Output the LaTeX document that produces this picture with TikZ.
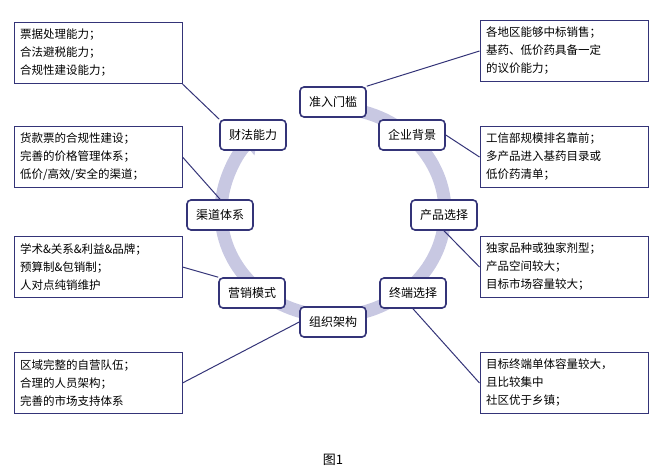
\documentclass[tikz,border=0pt]{standalone}
\usepackage{fontspec}
\usepackage{xcolor}
\newfontfamily\cjk{Noto Sans CJK SC}
\usetikzlibrary{arrows.meta}
\definecolor{navy}{RGB}{52,52,120}
\definecolor{ring}{RGB}{200,200,226}

\begin{document}
\begin{tikzpicture}[x=1pt, y=-1pt,
    stage/.style={rectangle, rounded corners=4pt, draw=navy, line width=1.6pt, fill=white,
        minimum width=66pt, minimum height=30pt, font=\cjk\fontsize{12}{14}\selectfont},
    note/.style={rectangle, draw=navy, line width=1pt, fill=white, align=left,
        minimum width=168pt, minimum height=61pt, text width=156pt,
        font=\cjk\fontsize{11.5}{18}\selectfont},
    link/.style={draw=navy, line width=1pt}]
        \useasboundingbox (0,0) rectangle (664,469);
        % ring with arrow
        \draw [ring, line width=13pt, -{Triangle[length=16pt,width=26pt]}]
            (333,212) ++(-80:112 and 104) arc[start angle=-80, end angle=228, x radius=112, y radius=104];

        \node[stage] (gate) at (333,102) {准入门槛};
        \node[stage] (firm) at (412,135) {企业背景};
        \node[stage] (product) at (444,215) {产品选择};
        \node[stage] (terminal) at (413,293) {终端选择};
        \node[stage] (org) at (333,322) {组织架构};
        \node[stage] (marketing) at (252,293) {营销模式};
        \node[stage] (channel) at (220,215) {渠道体系};
        \node[stage] (finance) at (253,135) {财法能力};

        \node[note] (n1) at (98,53) {票据处理能力；\\合法避税能力；\\合规性建设能力；};
        \node[note] (n2) at (564,51) {各地区能够中标销售；\\基药、低价药具备一定\\的议价能力；};
        \node[note] (n3) at (98,157) {货款票的合规性建设；\\完善的价格管理体系；\\低价/高效/安全的渠道；};
        \node[note] (n4) at (564,157) {工信部规模排名靠前；\\多产品进入基药目录或\\低价药清单；};
        \node[note] (n5) at (98,267) {学术\&关系\&利益\&品牌；\\预算制\&包销制；\\人对点纯销维护};
        \node[note] (n6) at (564,267) {独家品种或独家剂型；\\产品空间较大；\\目标市场容量较大；};
        \node[note] (n7) at (98,383) {区域完整的自营队伍；\\合理的人员架构；\\完善的市场支持体系};
        \node[note] (n8) at (564,383) {目标终端单体容量较大，\\且比较集中\\社区优于乡镇；};

        \draw[link] (n1.south east) -- (finance.west |- finance.north);
        \draw[link] (n2.west) -- (gate.north east);
        \draw[link] (n3.east) -- (channel.north);
        \draw[link] (n4.west) -- (firm.east);
        \draw[link] (n5.east) -- (marketing.north west);
        \draw[link] (n6.west) -- (product.south);
        \draw[link] (n7.east) -- (org.west);
        \draw[link] (n8.west) -- (terminal.south);

        \node[font=\cjk\fontsize{13}{15}\selectfont] (cap) at (333,460) {图1};
    \end{tikzpicture}
\end{document}
